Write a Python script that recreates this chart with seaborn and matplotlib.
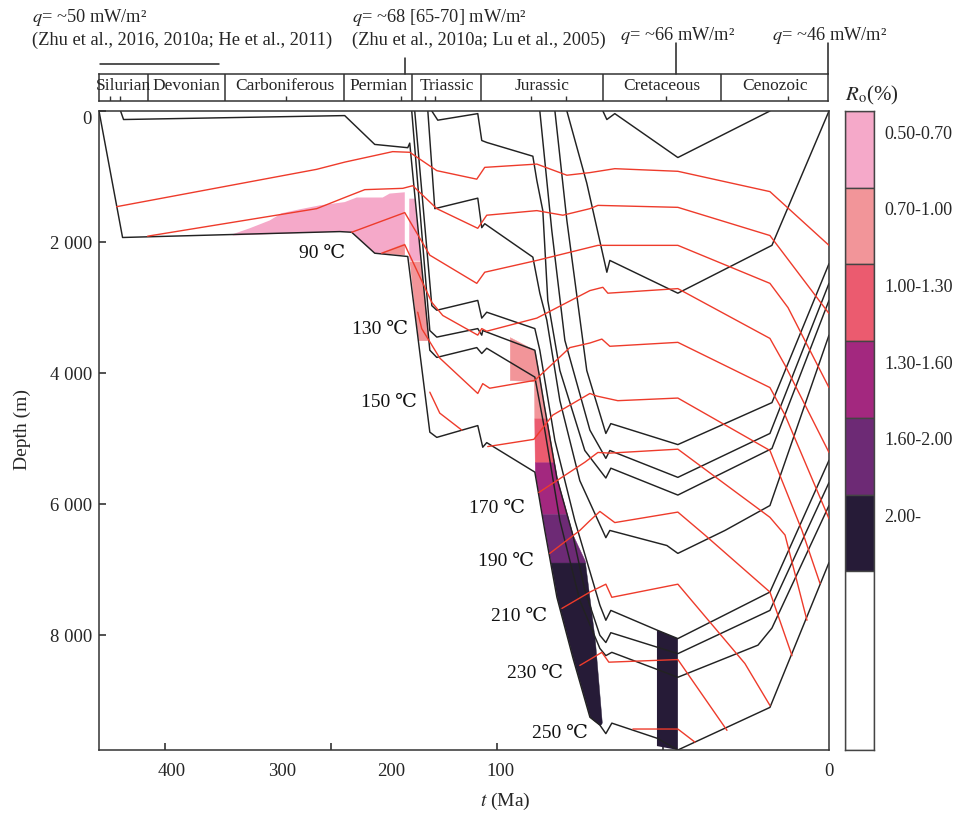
import numpy as np
import pandas as pd
import matplotlib
matplotlib.use("Agg")
import matplotlib.pyplot as plt
import seaborn as sns

# ---------------- data ----------------
periods = ["Silurian", "Devonian", "Carboniferous", "Permian",
           "Triassic", "Jurassic", "Cretaceous", "Cenozoic"]
period_bounds = [440, 410.7, 363.7, 291.9, 250.9, 209.3, 135.7, 64.5, 0]
stage_ticks = [433.6, 427.2, 327.0, 257.5, 243.1, 237.2, 179.1, 158.0, 97.7, 24.1]

x_tick_values = [400, 300, 200, 100]
x_tick_labels = ["400", "300", "200", "100", "0"]
x_label_at = [396.2, 329.9, 263.6, 197.8, 0]
y_ticks = [0, 2000, 4000, 6000, 8000]
y_tick_labels = ["0", "2 000", "4 000", "6 000", "8 000"]

# burial curves of horizons (age in Ma, depth in m)
hA_age = [440, 425.8, 294.9, 287.7, 273.8, 253.9, 240.6, 236.4, 211.7, 208.7, 206.3, 177.3,
          171.3, 164.0, 154.4, 144.1, 138.1, 134.5, 130.9, 103.7, 91.1, 35.6, 0]
hA_depth = [0, 1930, 1840, 1850, 2170, 2220, 4900, 4980, 4800, 5130, 5060, 5510,
            6400, 7420, 8340, 9250, 9370, 9500, 9340, 9570, 9750, 9100, 6890]
hB_age = [427.0, 425.2, 291.9, 273.8, 253.9, 252.7, 240.6, 236.4, 212.3, 209.3, 206.3,
          177.3, 171.3, 162.2, 150.2, 138.1, 134.5, 130.9, 91.1, 42.8, 34.4, 0]
hB_depth = [0, 130, 70, 510, 560, 490, 3650, 3760, 3610, 3700, 3620,
            4060, 4870, 6250, 7470, 8200, 8310, 8260, 8640, 8150, 7890, 6020]
hC_age = [251.5, 240.6, 236.4, 211.7, 209.3, 208.7, 177.3, 174.3, 171.9, 164.0, 154.4,
          147.2, 138.1, 134.5, 131.5, 91.1, 35.6, 0]
hC_depth = [0, 3350, 3450, 3320, 3420, 3350, 3650, 4080, 4450, 5600, 6470,
            7310, 8000, 8110, 7960, 8280, 7620, 5670]
hD_age = [249.7, 239.4, 236.4, 211.7, 209.3, 206.3, 177.3, 174.3, 165.2, 153.2, 138.1,
          134.5, 131.5, 103.7, 91.1, 35.6, 0]
hD_depth = [0, 2970, 3040, 2890, 3160, 3070, 3320, 3650, 5030, 6250, 7540,
            7770, 7620, 7920, 8050, 7340, 5330]
hE_age = [241.8, 237.6, 211.7, 209.3, 207.5, 178.5, 174.3, 170.1, 162.2, 150.2, 134.5,
          132.1, 97.7, 91.1, 62.7, 35.6, 0]
hE_depth = [0, 1490, 1330, 1780, 1720, 2230, 2780, 3190, 4420, 5640, 6510,
            6400, 6630, 6750, 6400, 6020, 3420]
hF_age = [239.4, 235.8, 211.7, 209.3, 206.3, 178.5, 176.1, 172.5, 169.5, 162.2, 147.2,
          134.5, 131.5, 91.1, 34.4, 0]
hF_depth = [0, 140, 40, 450, 480, 690, 1060, 1520, 2890, 3960, 5180,
            5600, 5450, 5860, 5150, 2890]
hG_age = [174.3, 167.1, 159.2, 144.1, 134.5, 132.1, 91.1, 35.6, 0]
hG_depth = [0, 1820, 3500, 4870, 5300, 5180, 5590, 4920, 2630]
hH_age = [165.2, 158.0, 146.0, 134.5, 131.5, 91.1, 34.4, 0]
hH_depth = [0, 1670, 3960, 4920, 4770, 5090, 4450, 2330]
hI_age = [158.0, 146.0, 133.9, 132.1, 91.1, 34.4, 0]
hI_depth = [0, 1100, 2460, 2280, 2780, 2050, 0]
hJ_age = [136.3, 133.9, 129.1, 91.1, 35.6]
hJ_depth = [0, 130, 40, 710, 0]

# isotherms (age in Ma, depth in m)
t1_age = [429.4, 308.8, 291.9, 263.0, 252.7, 236.4, 212.3, 207.5, 176.1, 158.0, 144.1, 129.1, 91.1, 35.6, 0]
t1_depth = [1460, 890, 780, 620, 630, 910, 1040, 860, 810, 980, 940, 880, 920, 1230, 2050]
t2_age = [410.7, 308.8, 291.9, 279.8, 256.9, 250.9, 236.4, 211.7, 206.3, 176.1, 160.4, 144.1, 139.3, 91.1, 35.6, 0]
t2_depth = [1910, 1490, 1320, 1200, 1180, 1140, 1490, 1790, 1590, 1520, 1590, 1490, 1440, 1470, 1900, 3090]
t3_age = [287.7, 255.7, 240.6, 212.3, 207.5, 176.1, 144.1, 139.3, 91.1, 35.6, 24.7, 0]
t3_depth = [1850, 1550, 2200, 2630, 2460, 2280, 2080, 2050, 2050, 2630, 3000, 4220]
t4_age = [269.6, 255.7, 239.4, 232.8, 211.7, 209.3, 206.3, 176.1, 144.1, 136.3, 133.3, 91.1, 35.6, 26.5, 0]
t4_depth = [2170, 2040, 2920, 3120, 3420, 3320, 3360, 3160, 2740, 2690, 2780, 2710, 3470, 3880, 5210]
t5_age = [247.9, 245.5, 234.6, 211.7, 208.7, 204.5, 177.3, 156.2, 144.1, 136.9, 132.1, 91.1, 35.6, 26.5, 0]
t5_depth = [3070, 3320, 3770, 4310, 4160, 4230, 4110, 3610, 3540, 3480, 3590, 3530, 4220, 4640, 6220]
t6a_age = [240.6, 234.6, 221.3]
t6a_depth = [4290, 4610, 4870]
t6b_age = [205.7, 177.9, 166.5, 144.1, 139.9, 127.3, 91.1, 35.6, 16.3, 5.4]
t6b_depth = [5120, 5010, 4640, 4310, 4350, 4420, 4380, 5180, 6400, 7210]
t7_age = [174.9, 147.2, 139.3, 132.1, 91.1, 35.6, 26.5, 13.3]
t7_depth = [5820, 5360, 5210, 5220, 5160, 6200, 6470, 7770]
t8_age = [168.3, 150.2, 144.1, 138.1, 129.1, 91.1, 74.8, 35.6, 22.3]
t8_depth = [6750, 6400, 6250, 6110, 6280, 6120, 6470, 7340, 8310]
t9_age = [161.0, 144.1, 134.5, 130.9, 91.1, 50.7, 35.6]
t9_depth = [7590, 7340, 7220, 7420, 7220, 8430, 9070]
t10_age = [150.2, 136.9, 132.7, 91.1, 61.5]
t10_depth = [8460, 8260, 8410, 8370, 9450]
t11_age = [118.2, 91.1, 80.8]
t11_depth = [9430, 9430, 9630]

iso_labels = ["90 ℃", "130 ℃", "150 ℃", "170 ℃", "190 ℃", "210 ℃", "230 ℃", "250 ℃"]
iso_label_at = [(305.8, 2170), (270.8, 3330), (265.4, 4445), (200.2, 6063),
                (194.8, 6872), (187.0, 7711), (177.3, 8581), (162.2, 9495)]

# Ro zones
ro_classes = ["0.50-0.70", "0.70-1.00", "1.00-1.30", "1.30-1.60", "1.60-2.00", "2.00-"]
ro_colors = ["#F5A9C9", "#F29599", "#EB5B6F", "#A3287F", "#6D2A75", "#261B37"]

pink_age = [359.4, 349.2, 337.1, 329.9, 319.0, 307.0, 291.9, 284.7, 269.0, 264.8, 255.7,
            255.7, 273.8, 287.7, 294.9, 359.4]
pink_depth = [1880, 1790, 1670, 1560, 1500, 1440, 1390, 1320, 1320, 1260, 1240,
              2200, 2170, 1850, 1840, 1900]
salmon_age = [270.8, 255.7, 255.7]
salmon_depth = [2170, 2020, 2200]

strip_left_depth = [1330, 2230, 3190, 3500]
strip_left_age = [253.3, 253.3, 249.1, 247.6]
strip_right_depth = [1330, 2130, 3040, 3500]
strip_right_age = [249.7, 246.7, 243.0, 241.2]
strip_break = 2280

band_left_depth = [3450, 4110, 4120, 5510, 6400, 7420, 8340, 9250, 9370]
band_left_age = [192.4, 192.4, 177.9, 177.3, 171.3, 164.0, 154.4, 144.1, 138.1]
band_right_depth = [3450, 3650, 4080, 4450, 5600, 6470, 6860, 8080, 9340, 9370]
band_right_age = [192.4, 177.3, 174.3, 171.9, 164.0, 154.4, 147.2, 141.1, 136.9, 138.1]
band_breaks = [3450, 4690, 5360, 6150, 6890, 9370]

bar2_age = [103.7, 91.1, 91.1, 103.7]
bar2_depth = [7920, 8050, 9750, 9690]

heat_flow_texts = ["$q$= ~50 mW/m²", "(Zhu et al., 2016, 2010a; He et al., 2011)",
                   "$q$= ~68 [65-70] mW/m²", "(Zhu et al., 2010a; Lu et al., 2005)",
                   "$q$= ~66 mW/m²", "$q$= ~46 mW/m²"]

# ---------------- style ----------------
sns.set_theme(style="white")
plt.rcParams["font.family"] = ["Liberation Serif", "DejaVu Serif", "Noto Sans CJK SC"]
plt.rcParams["mathtext.fontset"] = "stix"
plt.rcParams["axes.edgecolor"] = "#333333"
plt.rcParams["axes.linewidth"] = 1.1

BLACK = "#222222"
RED = "#EE3B2B"
W, H = 960.0, 816.0

fig = plt.figure(figsize=(9.6, 8.16), dpi=100)
ax = fig.add_axes([99 / W, 1 - 750 / H, 730 / W, 639 / H])

# --- fills ---
ax.fill(pink_age, pink_depth, color=ro_colors[0], lw=0, zorder=1)
ax.fill(salmon_age, salmon_depth, color=ro_colors[1], lw=0, zorder=1)
yy = np.linspace(strip_left_depth[0], strip_left_depth[-1], 200)
xl = np.interp(yy, strip_left_depth, strip_left_age)
xr = np.interp(yy, strip_right_depth, strip_right_age)
m = yy <= strip_break
ax.fill_betweenx(yy[m], xl[m], xr[m], color=ro_colors[0], lw=0, zorder=1)
ax.fill_betweenx(yy[~m], xl[~m], xr[~m], color=ro_colors[1], lw=0, zorder=1)
for i, c in enumerate(ro_colors[1:]):
    yb = np.linspace(band_breaks[i], band_breaks[i + 1], 120)
    ax.fill_betweenx(yb, np.interp(yb, band_left_depth, band_left_age),
                     np.interp(yb, band_right_depth, band_right_age),
                     color=c, lw=0.3, edgecolor=c, zorder=1)
ax.fill(bar2_age, bar2_depth, color=ro_colors[5], lw=0, zorder=1)

# --- lines ---
black_curves = {"A": (hA_age, hA_depth), "B": (hB_age, hB_depth), "C": (hC_age, hC_depth),
                "D": (hD_age, hD_depth), "E": (hE_age, hE_depth), "F": (hF_age, hF_depth),
                "G": (hG_age, hG_depth), "H": (hH_age, hH_depth), "I": (hI_age, hI_depth),
                "J": (hJ_age, hJ_depth)}
red_curves = {"t1": (t1_age, t1_depth), "t2": (t2_age, t2_depth), "t3": (t3_age, t3_depth),
              "t4": (t4_age, t4_depth), "t5": (t5_age, t5_depth), "t6a": (t6a_age, t6a_depth),
              "t6b": (t6b_age, t6b_depth), "t7": (t7_age, t7_depth), "t8": (t8_age, t8_depth),
              "t9": (t9_age, t9_depth), "t10": (t10_age, t10_depth), "t11": (t11_age, t11_depth)}

df_black = pd.concat([pd.DataFrame({"age": a, "depth": d, "unit": k})
                      for k, (a, d) in black_curves.items()], ignore_index=True)
df_red = pd.concat([pd.DataFrame({"age": a, "depth": d, "unit": k})
                    for k, (a, d) in red_curves.items()], ignore_index=True)

sns.lineplot(data=df_red, x="age", y="depth", units="unit", estimator=None, sort=False,
             color=RED, linewidth=1.0, ax=ax, legend=False, zorder=3)
sns.lineplot(data=df_black, x="age", y="depth", units="unit", estimator=None, sort=False,
             color=BLACK, linewidth=1.05, ax=ax, legend=False, zorder=2)

for lab, (a, d) in zip(iso_labels, iso_label_at):
    ax.text(a, d, lab, fontsize=14, ha="center", va="center", color="#111111", zorder=5)

ax.set_xlim(440, 0)
ax.set_ylim(9750, 0)
ax.set_xticks(x_label_at)
ax.set_xticklabels(x_tick_labels)
ax.set_xticks(x_tick_values, minor=True)
ax.tick_params(axis="x", which="major", length=0, pad=9, labelsize=13.5)
ax.tick_params(axis="x", which="minor", direction="in", length=5, width=1.2,
               color="#333333", bottom=True)
ax.set_yticks(y_ticks)
ax.set_yticklabels(y_tick_labels)
ax.tick_params(axis="y", direction="in", length=5, width=1.2, pad=5, labelsize=13.5,
               color="#333333", left=True)
ax.get_yticklabels()[0].set_verticalalignment("top")
ax.set_xlabel("")
ax.set_ylabel("")
for s in ax.spines.values():
    s.set_visible(True)

fig.text(505 / W, 1 - 801 / H, "$t$ (Ma)", ha="center", va="center", fontsize=14)
fig.text(22 / W, 1 - 430 / H, "Depth (m)", ha="center", va="center", rotation=90, fontsize=14)

# --- geological period bar ---
bax = fig.add_axes([99 / W, 1 - 101 / H, 729 / W, 27 / H])
bax.set_xlim(440, 0)
bax.set_ylim(0, 1)
bax.set_xticks([])
bax.set_yticks([])
for s in bax.spines.values():
    s.set_visible(True)
    s.set_linewidth(1.1)
for b in period_bounds[1:-1]:
    bax.plot([b, b], [0, 1], color="#333333", lw=1.1)
for i, name in enumerate(periods):
    bax.text((period_bounds[i] + period_bounds[i + 1]) / 2, 0.56, name,
             ha="center", va="center", fontsize=12.5)
bax.vlines(stage_ticks, 0, 0.17, color="#333333", lw=1.0)
# connectors to heat-flow notes
bax.plot([255.1, 255.1], [1, 1.6], color="#222222", lw=1.1, clip_on=False)
bax.plot([91.7, 91.7], [1, 2.15], color="#222222", lw=1.1, clip_on=False)
bax.plot([0, 0], [1, 2.15], color="#222222", lw=1.1, clip_on=False)
bax.plot([439.1, 367.3], [1.37, 1.37], color="#222222", lw=1.1, clip_on=False)

hf_pos = [(32, 18), (32, 40), (352, 18), (352, 40), (620, 36), (772, 36)]
for txt, (px, py) in zip(heat_flow_texts, hf_pos):
    fig.text(px / W, 1 - py / H, txt, ha="left", va="center", fontsize=13.2)

# --- Ro colour key ---
cax = fig.add_axes([845 / W, 1 - 750 / H, 29 / W, 639 / H])
heights = [1, 1, 1, 1, 1, 1, 2.33]
bottoms = np.concatenate([[0], np.cumsum(heights)[:-1]])
cax.bar(np.zeros(len(heights)), heights, bottom=bottoms, width=1,
        color=ro_colors + ["#FFFFFF"], edgecolor="#444444", linewidth=1.0)
cax.set_xlim(-0.5, 0.5)
cax.set_ylim(sum(heights), 0)
cax.set_xticks([])
cax.set_yticks([])
for s in cax.spines.values():
    s.set_visible(True)
    s.set_linewidth(1.0)
    s.set_color("#444444")
for i, lab in enumerate(ro_classes):
    cax.text(1.35, bottoms[i] + 0.3, lab, transform=cax.get_yaxis_transform(),
             ha="left", va="center", fontsize=13)
fig.text(845 / W, 1 - 95 / H, r"$R_{\mathrm{o}}$(%)", ha="left", va="center", fontsize=15)

fig.savefig("out.png", dpi=100)
